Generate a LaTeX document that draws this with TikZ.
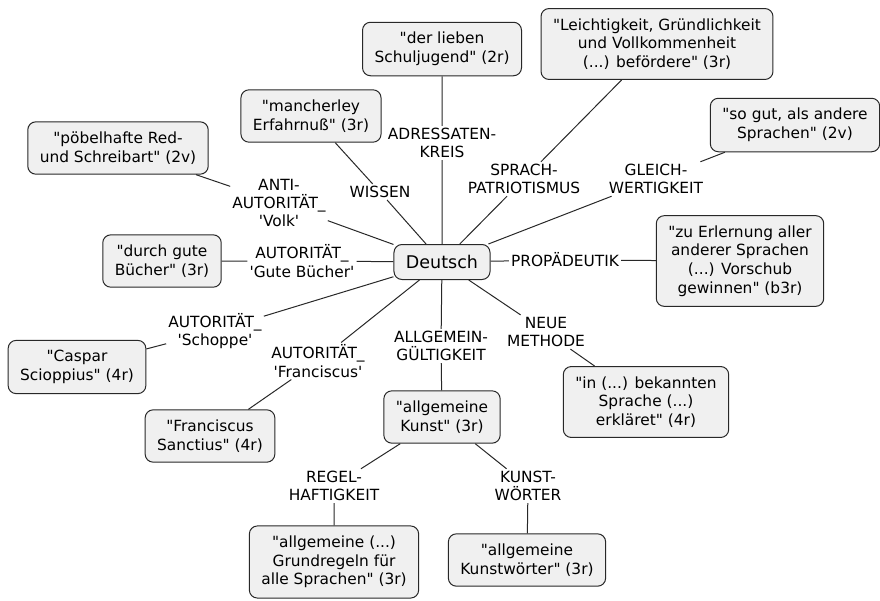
\documentclass[tikz,border=0pt]{standalone}
\usepackage{fontspec}
\setmainfont{DejaVu Sans}[Ligatures=TeXOff]
\usepackage{tikz}
\definecolor{boxFill}{RGB}{240,240,240}
\definecolor{boxLine}{RGB}{40,40,40}

\begin{document}
\begin{tikzpicture}[x=1pt,y=-1pt,
          kasten/.style={rectangle,rounded corners=8pt,draw=boxLine,fill=boxFill,
                     line width=1pt,align=center,inner xsep=12pt,inner ysep=10pt,
                     font=\fontsize{15.4}{18.6}\selectfont},
          rel/.style={align=center,inner sep=2pt,font=\fontsize{15.4}{18.4}\selectfont},
          kante/.style={draw=boxLine,line width=1pt}]
          \useasboundingbox (0,0) rectangle (880,600);
          % Mitte
          \node[kasten,font=\fontsize{17.5}{21}\selectfont,minimum width=93pt,
                minimum height=35pt,inner ysep=0pt] (deu) at (442,262) {Deutsch};
          % Zitate
          \node[kasten] (schul)   at (442,49)  {"der lieben\\Schuljugend" (2r)};
          \node[kasten] (leicht)  at (657,44)  {"Leichtigkeit, Gründlichkeit\\und Vollkommenheit\\(...) befördere" (3r)};
          \node[kasten] (sogut)   at (795,125) {"so gut, als andere\\Sprachen" (2v)};
          \node[kasten] (manch)   at (311,116) {"mancherley\\Erfahrnuß" (3r)};
          \node[kasten] (poebel)  at (118,148) {"pöbelhafte Red-\\und Schreibart" (2v)};
          \node[kasten] (buecher) at (162,261) {"durch gute\\Bücher" (3r)};
          \node[kasten] (erl)     at (740,261) {"zu Erlernung aller\\anderer Sprachen\\(...) Vorschub\\gewinnen" (b3r)};
          \node[kasten] (caspar)  at (77,367)  {"Caspar\\Scioppius" (4r)};
          \node[kasten] (sanct)   at (210,436) {"Franciscus\\Sanctius" (4r)};
          \node[kasten] (kunst)   at (442,417) {"allgemeine\\Kunst" (3r)};
          \node[kasten] (bek)     at (646,402) {"in (...) bekannten\\Sprache (...)\\erkläret" (4r)};
          \node[kasten] (grund)   at (334,562) {"allgemeine (...)\\Grundregeln für\\alle Sprachen" (3r)};
          \node[kasten] (kwort)   at (527,560) {"allgemeine\\Kunstwörter" (3r)};
          % Relationen
          \node[rel] (adr)    at (442,143) {ADRESSATEN-\\KREIS};
          \node[rel] (spr)    at (524,179) {SPRACH-\\PATRIOTISMUS};
          \node[rel] (gleich) at (656,179) {GLEICH-\\WERTIGKEIT};
          \node[rel] (wiss)   at (380,192) {WISSEN};
          \node[rel] (volk)   at (279,203) {ANTI-\\AUTORITÄT\_\\'Volk'};
          \node[rel] (gute)   at (302,261) {AUTORITÄT\_\\'Gute Bücher'};
          \node[rel] (prop)   at (565,260) {PROPÄDEUTIK};
          \node[rel] (schop)  at (215,331) {AUTORITÄT\_\\'Schoppe'};
          \node[rel] (franc)  at (318,361) {AUTORITÄT\_\\'Franciscus'};
          \node[rel] (allg)   at (441,346) {ALLGEMEIN-\\GÜLTIGKEIT};
          \node[rel] (neue)   at (546,332) {NEUE\\METHODE};
          \node[rel] (regel)  at (334,486) {REGEL-\\HAFTIGKEIT};
          \node[rel] (kw)     at (528,486) {KUNST-\\WÖRTER};
          \draw[kante]
            (deu)--(adr)--(schul)
            (deu)--(spr)--(leicht)
            (deu)--(gleich)--(sogut)
            (deu)--(wiss)--(manch)
            (deu)--(volk)--(poebel)
            (deu)--(gute)--(buecher)
            (deu)--(prop)--(erl)
            (deu)--(schop)--(caspar)
            (deu)--(franc)--(sanct)
            (deu)--(allg)--(kunst)
            (deu)--(neue)--(bek)
            (kunst)--(regel)--(grund)
            (kunst)--(kw)--(kwort);
        \end{tikzpicture}
\end{document}
